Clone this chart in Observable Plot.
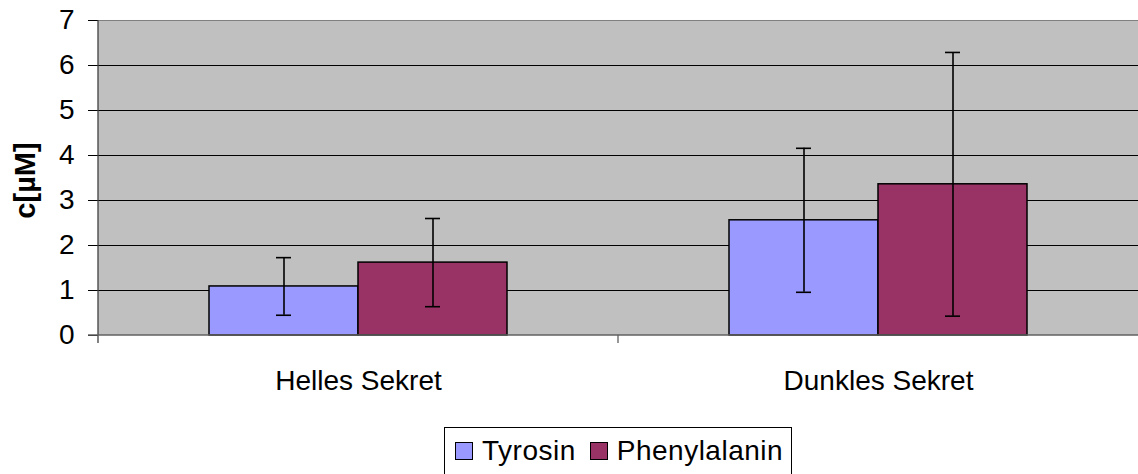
<!DOCTYPE html>
<html>
<head>
<meta charset="utf-8">
<script src="https://cdn.jsdelivr.net/npm/d3@7"></script>
<script src="https://cdn.jsdelivr.net/npm/@observablehq/plot@0.6"></script>
<style>
  html, body { margin: 0; padding: 0; background: #fff; }
  body { width: 1138px; height: 474px; overflow: hidden; position: relative; font-family: "Liberation Sans", Arial, sans-serif; }
  #legend {
    position: absolute; left: 444px; top: 427px;
    border: 1px solid #000; background: #fff;
    display: flex; align-items: center; gap: 14px;
    padding: 6px 8px 8px 10px; font-size: 28px; line-height: 34px; color: #000;
    letter-spacing: 0.5px; white-space: nowrap;
  }
  .item { display: flex; align-items: center; gap: 9px; }
  .sw { width: 18px; height: 18px; border: 1.5px solid #000; box-sizing: border-box; }
</style>
</head>
<body>
<div id="chart"></div>
<div id="legend"></div>
<script>
const categories = ["Helles Sekret", "Dunkles Sekret"];
const series = ["Tyrosin", "Phenylalanin"];
const tyrosinMean = [1.09, 2.56];
const tyrosinSD = [0.64, 1.60];
const phenylalaninMean = [1.62, 3.36];
const phenylalaninSD = [0.98, 2.93];
const yTicks = [0, 1, 2, 3, 4, 5, 6, 7];
const colors = ["#9999ff", "#993366"];

const rows = [];
categories.forEach((c, i) => {
  rows.push({category: c, series: series[0], mean: tyrosinMean[i], sd: tyrosinSD[i]});
  rows.push({category: c, series: series[1], mean: phenylalaninMean[i], sd: phenylalaninSD[i]});
});

const FONT = "Liberation Sans, Arial, sans-serif";

const plot = Plot.plot({
  width: 1138,
  height: 405,
  marginTop: 20,
  marginLeft: 97,
  marginRight: 0,
  marginBottom: 70,
  style: {fontFamily: FONT, fontSize: "28px", color: "#000", background: "transparent", overflow: "visible"},
  fx: {domain: categories, padding: 0, label: null},
  x: {domain: series, paddingInner: 0, paddingOuter: 0.735, axis: null},
  y: {domain: [0, 7], axis: null},
  color: {domain: series, range: colors},
  marks: [
    Plot.ruleY(yTicks.filter(d => d > 0 && d < 7), {stroke: "#000", strokeWidth: 1}),
    Plot.ruleY([7], {stroke: "#808080", strokeWidth: 1}),
    Plot.barY(rows, {fx: "category", x: "series", y: "mean", fill: "series", stroke: "#000", strokeWidth: 1.5}),
    Plot.ruleX(rows, {fx: "category", x: "series", y1: d => d.mean - d.sd, y2: d => d.mean + d.sd, stroke: "#000", strokeWidth: 1.6}),
    Plot.tickY(rows, {fx: "category", x: "series", y: d => d.mean + d.sd, stroke: "#000", strokeWidth: 1.6, insetLeft: 67, insetRight: 67}),
    Plot.tickY(rows, {fx: "category", x: "series", y: d => d.mean - d.sd, stroke: "#000", strokeWidth: 1.6, insetLeft: 67, insetRight: 67}),
    Plot.axisY({ticks: yTicks, tickSize: 10, tickPadding: 14, tickFormat: d3.format("d"), label: null, stroke: "#000", fontSize: 28}),
    Plot.axisFx({anchor: "bottom", tickSize: 0, tickPadding: 35, label: null, fontSize: 28})
  ]
});

// background, axis lines and category separators through the library's scales
const svg = d3.select(plot);
const fx = plot.scale("fx");
const y = plot.scale("y");
const y0 = y.apply(0), y7 = y.apply(7);
const bounds = categories.map(c => fx.apply(c)).concat([fx.apply(categories[categories.length - 1]) + fx.bandwidth]);

svg.insert("rect", ":first-child")
  .attr("x", bounds[0]).attr("y", y7)
  .attr("width", bounds[bounds.length - 1] - bounds[0]).attr("height", y0 - y7)
  .attr("fill", "#c0c0c0");

const g = svg.append("g").attr("stroke-width", 1.3);
g.append("line").attr("x1", bounds[0]).attr("x2", bounds[0]).attr("y1", y7).attr("y2", y0 + 8).attr("stroke", "#404040");
g.append("line").attr("x1", bounds[0] - 10).attr("x2", bounds[bounds.length - 1]).attr("y1", y0).attr("y2", y0).attr("stroke", "#606060");
bounds.slice(1, -1).forEach(b => {
  g.append("line").attr("x1", b).attr("x2", b).attr("y1", y0).attr("y2", y0 + 8).attr("stroke", "#606060");
});

// y label
svg.append("text")
  .attr("transform", `translate(25,${(y0 + y7) / 2 + 3}) rotate(-90)`)
  .attr("text-anchor", "middle")
  .attr("dominant-baseline", "central")
  .style("font-weight", "bold")
  .style("font-size", "29px")
  .style("font-family", FONT)
  .attr("fill", "#000")
  .text("c[µM]");

document.getElementById("chart").appendChild(plot);

const legend = document.getElementById("legend");
series.forEach((s, i) => {
  const it = document.createElement("div");
  it.className = "item";
  const sw = document.createElement("div");
  sw.className = "sw";
  sw.style.background = colors[i];
  const t = document.createElement("span");
  t.textContent = s;
  it.appendChild(sw); it.appendChild(t);
  legend.appendChild(it);
});
</script>
</body>
</html>
